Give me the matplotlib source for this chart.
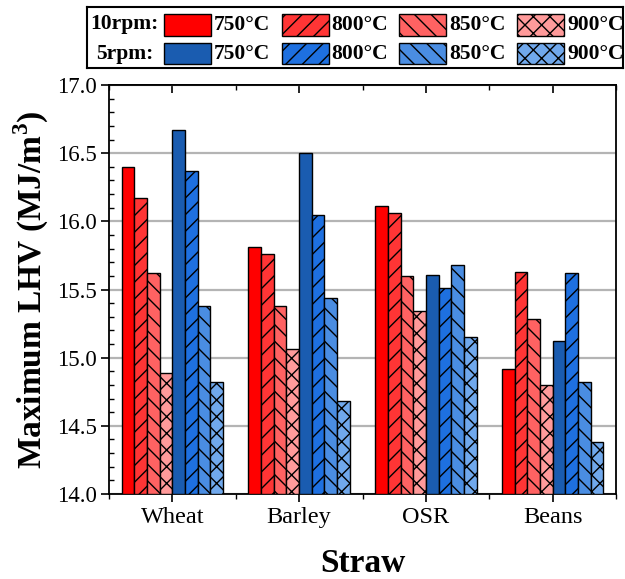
import matplotlib.pyplot as plt
import matplotlib.patches as mpatches
from matplotlib.ticker import MultipleLocator
import numpy as np

plt.rcParams['font.family'] = ['Liberation Serif', 'DejaVu Serif']
plt.rcParams['hatch.linewidth'] = 1.0
plt.rcParams['mathtext.fontset'] = 'custom'
plt.rcParams['mathtext.bf'] = 'Liberation Serif:bold'
plt.rcParams['mathtext.rm'] = 'Liberation Serif'

straws = ['Wheat', 'Barley', 'OSR', 'Beans']
temps = ['750°C', '800°C', '850°C', '900°C']

# maximum LHV (MJ/m3) per straw, one list per temperature
lhv_10rpm = {
    '750°C': [16.40, 15.81, 16.11, 14.92],
    '800°C': [16.17, 15.76, 16.06, 15.63],
    '850°C': [15.62, 15.38, 15.60, 15.28],
    '900°C': [14.89, 15.06, 15.34, 14.80],
}
lhv_5rpm = {
    '750°C': [16.67, 16.50, 15.61, 15.12],
    '800°C': [16.37, 16.05, 15.51, 15.62],
    '850°C': [15.38, 15.44, 15.68, 14.82],
    '900°C': [14.82, 14.68, 15.15, 14.38],
}

red_cols = ['#ff0000', '#ff3535', '#ff6262', '#ff9a9a']
blue_cols = ['#1a5cb0', '#1e70e0', '#4a8de2', '#70a8ec']
hatches = ['', '//', '\\\\', 'xx']

fig = plt.figure(figsize=(6.25, 5.79), dpi=100)
ax = fig.add_axes([109 / 625, 85 / 579, 507 / 625, 409 / 579])
ax.set_position([109 / 625, 1 - 494 / 579, 507 / 625, 409 / 579])

x = np.arange(1, len(straws) + 1)
w = 0.1
series = [(lhv_10rpm, red_cols), (lhv_5rpm, blue_cols)]
k = 0
for data, cols in series:
    for t, c, h in zip(temps, cols, hatches):
        ax.bar(x + (k - 3.5) * w, np.array(data[t]) - 14.0, w, bottom=14.0,
               color=c, hatch=h, edgecolor='black', linewidth=1.0, zorder=3)
        k += 1

ax.set_ylim(14.0, 17.0)
ax.set_xlim(0.5, 4.5)
ax.set_xticks(x)
ax.set_xticklabels(straws, fontsize=17.5)
ax.xaxis.set_minor_locator(MultipleLocator(0.5))
ax.yaxis.set_major_locator(MultipleLocator(0.5))
ax.yaxis.set_minor_locator(MultipleLocator(0.1))
ax.yaxis.set_major_formatter(plt.FormatStrFormatter('%.1f'))
ax.tick_params(axis='y', labelsize=16.5, pad=3)
ax.tick_params(axis='y', which='major', direction='out', length=6, width=1.2)
ax.tick_params(axis='y', which='minor', direction='in', length=3.5, width=1.0)
ax.tick_params(axis='x', which='major', direction='out', length=6, width=1.2)
ax.tick_params(axis='x', which='minor', direction='out', length=3.5, width=1.0)
for sp in ax.spines.values():
    sp.set_linewidth(1.3)
ax.grid(axis='y', which='major', color='#b4b4b4', linewidth=1.6, zorder=0)
ax.set_axisbelow(True)

# inward ticks along the top edge
top = ax.secondary_xaxis('top')
top.set_xticks(x)
top.xaxis.set_minor_locator(MultipleLocator(0.5))
top.tick_params(which='major', direction='in', length=6, width=1.2,
                labeltop=False)
top.tick_params(which='minor', direction='in', length=3.5, width=1.0)
top.spines['top'].set_linewidth(1.3)

ax.set_xlabel('Straw', fontsize=24, fontweight='bold', labelpad=14)
ax.set_ylabel(r'Maximum LHV (MJ/m$^\mathbf{3}$)', fontsize=24,
              fontweight='bold', labelpad=4)

# legend drawn as a boxed panel: row label, then swatch + text per temperature
lax = fig.add_axes([87 / 625, 1 - 68.3 / 579, 536 / 625, 61 / 579])
lax.set_xlim(0, 536)
lax.set_ylim(61, 0)
lax.set_xticks([])
lax.set_yticks([])
for sp in lax.spines.values():
    sp.set_linewidth(1.5)
rows = [('10rpm:', red_cols, 17.2), ('5rpm:', blue_cols, 46.2)]
for label, cols, yc in rows:
    lax.text(37.5, yc, label, fontsize=15.5, fontweight='bold',
             ha='center', va='center')
    for i, (t, c, h) in enumerate(zip(temps, cols, hatches)):
        x0 = 77 + i * 117.7
        lax.add_patch(mpatches.Rectangle((x0, yc - 11), 47, 22, facecolor=c,
                                         hatch=h, edgecolor='black',
                                         linewidth=1.0))
        lax.text(x0 + 50, yc + 0.5, t, fontsize=15.5, fontweight='bold',
                 ha='left', va='center')

fig.savefig('out.png', dpi=100)
